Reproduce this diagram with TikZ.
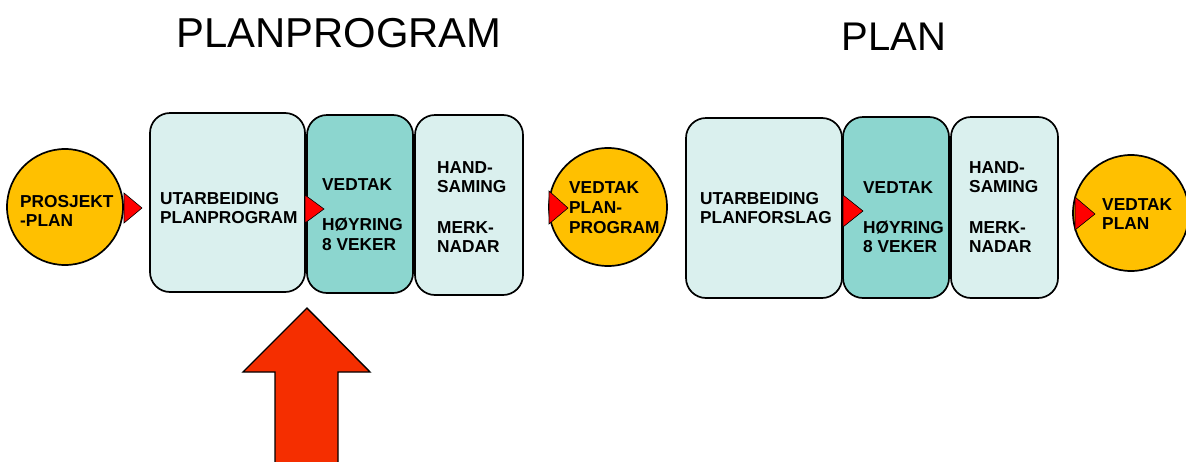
\documentclass[tikz,border=0pt]{standalone}
\usepackage{fontspec}
\setmainfont{Liberation Sans}
\definecolor{orng}{HTML}{FFC000}
\definecolor{lcyan}{HTML}{DAF0EE}
\definecolor{teal2}{HTML}{8CD6CF}
\definecolor{bigred}{HTML}{F52E00}
\tikzset{
  boxlight/.style={draw, line width=1.7pt, fill=lcyan, rounded corners=20pt},
  boxteal/.style={draw, line width=1.7pt, fill=teal2, rounded corners=20pt},
  disc/.style={draw, line width=1.7pt, fill=orng},
  marker/.style={draw, line width=0.6pt, fill=red},
  lbl/.style={inner sep=0pt, anchor=base west, font=\bfseries\fontsize{17.3}{20}\selectfont},
  ttl/.style={inner sep=0pt, anchor=base, font=\fontsize{40}{46}\selectfont},
}
\begin{document}
\begin{tikzpicture}[x=1pt,y=-1pt]
\useasboundingbox (0,0) rectangle (1186,461);
% titles
\node[ttl, font=\fontsize{41.8}{46}\selectfont] (t1) at (339,47) {PLANPROGRAM};
\node[ttl] (t2) at (894,50) {PLAN};
% left group
\draw[disc] (65,207) circle[radius=58];
\draw[boxlight] (150,113) rectangle (305,292);
\draw[boxteal] (307,115) rectangle (413,293);
\draw[boxlight] (415,115) rectangle (523,295);
\draw[disc] (608,207) circle[radius=59];
% right group
\draw[boxlight] (686,118) rectangle (842,298);
\draw[boxteal] (843,117) rectangle (949,298);
\draw[boxlight] (951,117) rectangle (1058,298);
\draw[disc] (1131,213) circle[radius=58];
% markers
\draw[marker] (124,193) -- (142,208) -- (124,223) -- cycle;
\draw[marker] (305,195) -- (324,209) -- (305,223) -- cycle;
\draw[marker] (549,191) -- (568,208) -- (549,224) -- cycle;
\draw[marker] (843,195) -- (863,211) -- (843,227) -- cycle;
\draw[marker] (1075,197) -- (1095,214) -- (1075,230) -- cycle;
% labels
\node[lbl] (l1a) at (20,207) {PROSJEKT};
\node[lbl] (l1b) at (20,226) {-PLAN};
\node[lbl] (l2a) at (160,204) {UTARBEIDING};
\node[lbl] (l2b) at (160,223) {PLANPROGRAM};
\node[lbl] (l3a) at (322,190) {VEDTAK};
\node[lbl] (l3b) at (322,230) {HØYRING};
\node[lbl] (l3c) at (322,250) {8 VEKER};
\node[lbl] (l4a) at (437,173) {HAND-};
\node[lbl] (l4b) at (437,192) {SAMING};
\node[lbl] (l4c) at (437,233) {MERK-};
\node[lbl] (l4d) at (437,252) {NADAR};
\node[lbl] (l5a) at (569,193) {VEDTAK};
\node[lbl] (l5b) at (569,213) {PLAN-};
\node[lbl] (l5c) at (569,233) {PROGRAM};
\node[lbl] (r2a) at (700,204) {UTARBEIDING};
\node[lbl] (r2b) at (700,223) {PLANFORSLAG};
\node[lbl] (r3a) at (863,193) {VEDTAK};
\node[lbl] (r3b) at (863,233) {HØYRING};
\node[lbl] (r3c) at (863,252) {8 VEKER};
\node[lbl] (r4a) at (969,173) {HAND-};
\node[lbl] (r4b) at (969,192) {SAMING};
\node[lbl] (r4c) at (969,233) {MERK-};
\node[lbl] (r4d) at (969,252) {NADAR};
\node[lbl] (r5a) at (1102,210) {VEDTAK};
\node[lbl] (r5b) at (1102,229) {PLAN};
% big arrow
\draw[line width=1.4pt, fill=bigred, line join=miter]
  (307,308) -- (370,372) -- (338,372) -- (338,475) -- (275,475) -- (275,372) -- (243,372) -- cycle;
\end{tikzpicture}
\end{document}
